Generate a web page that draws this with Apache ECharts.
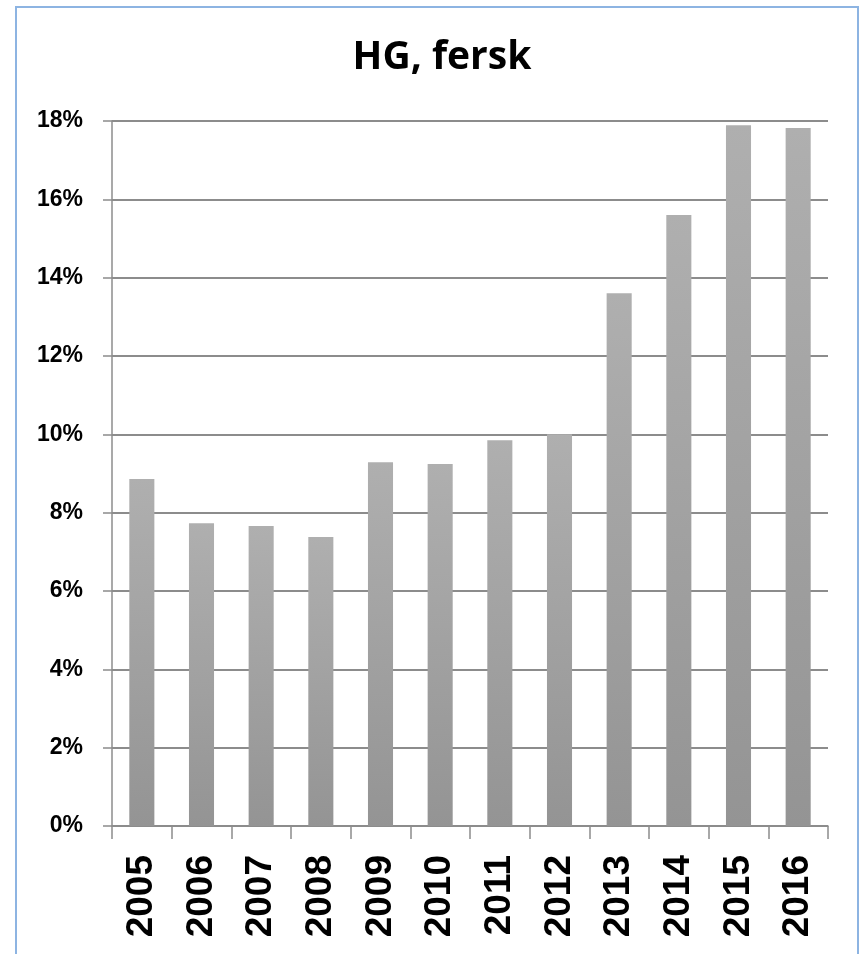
<!DOCTYPE html>
<html>
<head>
<meta charset="utf-8">
<style>
  html, body { margin: 0; padding: 0; background: #fff; overflow: hidden; }
  #chart { width: 862px; height: 954px; }
</style>
<script src="https://cdn.jsdelivr.net/npm/echarts@6/dist/echarts.min.js"></script>
</head>
<body>
<div id="chart"></div>
<script>
var years = ['2005', '2006', '2007', '2008', '2009', '2010', '2011', '2012', '2013', '2014', '2015', '2016'];
var shares = [8.86, 7.73, 7.66, 7.38, 9.29, 9.24, 9.85, 10.0, 13.6, 15.6, 17.89, 17.82];//andel i prosent
var yTicks = [0, 2, 4, 6, 8, 10, 12, 14, 16, 18];

var myChart = echarts.init(document.getElementById('chart'));
var gridColor = '#8c8c8c';
var option = {
    animation: false,
    backgroundColor: '#fff',
    title: {
        text: 'HG, fersk',
        left: 437,
        top: 33,
        textAlign: 'center',
        textStyle: {
            fontFamily: 'Open Sans',
            fontWeight: 'bold',
            fontSize: 39,
            color: '#000'
        }
    },
    graphic: [{//ramme rundt diagrammet
        type: 'rect',
        shape: { x: 16, y: 7, width: 842, height: 980 },
        style: { fill: 'none', stroke: '#8db4e2', lineWidth: 2 },
        silent: true
    }],
    grid: {
        left: 112,
        width: 716,
        top: 121,
        height: 705,
        containLabel: false
    },
    xAxis: {
        type: 'category',
        data: years,
        axisLine: { lineStyle: { color: gridColor, width: 1.5 } },
        axisTick: { show: true, length: 13, alignWithLabel: false, lineStyle: { color: gridColor, width: 1.5 } },
        axisLabel: {
            rotate: 90,
            margin: 29,
            interval: 0,
            color: '#000',
            fontFamily: 'Liberation Sans',
            fontWeight: 'bold',
            fontSize: 37
        }
    },
    yAxis: {
        type: 'value',
        min: yTicks[0],
        max: yTicks[yTicks.length - 1],
        interval: 2,
        axisLine: { show: true, lineStyle: { color: gridColor, width: 1.5 } },
        axisTick: { show: true, length: 9, lineStyle: { color: gridColor, width: 1.5 } },
        splitLine: { show: true, lineStyle: { color: gridColor, width: 2 } },
        axisLabel: {
            margin: 29,
            color: '#000',
            fontFamily: 'Liberation Sans',
            fontWeight: 'bold',
            fontSize: 23,
            formatter: '{value}%'
        }
    },
    series: [{
        type: 'bar',
        data: shares,
        barWidth: '42%',
        itemStyle: {
            color: new echarts.graphic.LinearGradient(0, 0, 0, 1, [
                { offset: 0, color: '#afafaf' },
                { offset: 1, color: '#949494' }
            ])
        }
    }]
};
myChart.setOption(option);
</script>
</body>
</html>
